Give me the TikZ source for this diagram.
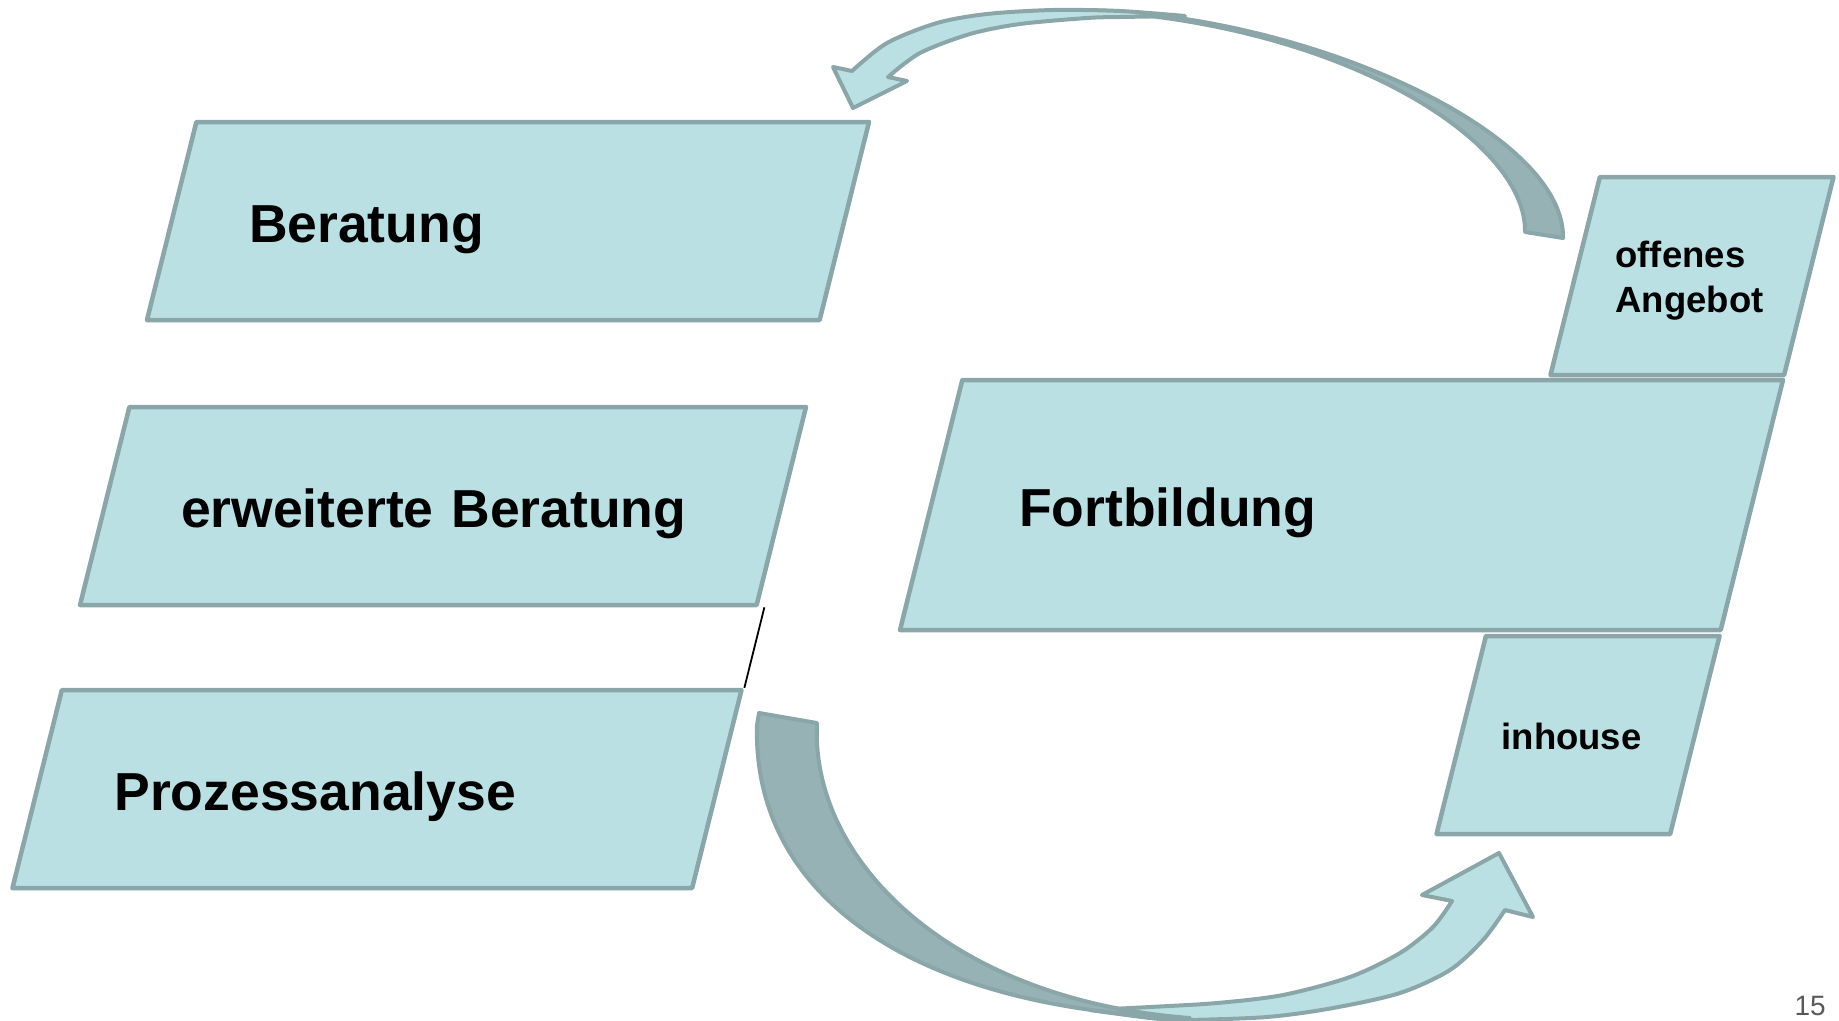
\documentclass[tikz,border=0pt]{standalone}
\usepackage{fontspec}
\setmainfont{Liberation Sans}
\usetikzlibrary{shapes.geometric,positioning}
\definecolor{boxfill}{RGB}{187,224,227}
\definecolor{boxline}{RGB}{138,166,168}
\definecolor{bandback}{RGB}{150,178,180}
\definecolor{pagegray}{RGB}{89,89,89}

\begin{document}
\begin{tikzpicture}[x=1pt,y=-1pt,line join=round]
  \tikzstyle{slab}=[trapezium,trapezium left angle=76,trapezium right angle=104,trapezium stretches body,draw=boxline,fill=boxfill,line width=4.5pt,inner sep=0pt,align=left,text=black]
  \tikzstyle{labbig}=[font=\bfseries\fontsize{53.5}{60}\selectfont,text height=120pt,text depth=78pt]
  \tikzstyle{labsmall}=[font=\bfseries\fontsize{36.5}{45}\selectfont,minimum width=283pt,text width=153pt]
  \tikzstyle{band}=[draw=boxline,line width=4pt]

  \useasboundingbox (0,0) rectangle (1839,1020);

  \node[slab,labbig,minimum width=722pt,text width=518pt] (ber) at (508,221) {Beratung};
  \node[slab,labbig,minimum width=726pt,text width=524pt] (erw) [below=82.5pt of ber,xshift=-65pt] {erweiterte Beratung};
  \node[slab,labbig,minimum width=729pt,text width=525pt] (pro) [below=80.5pt of erw,xshift=-66pt] {Prozessanalyse};

  \node[slab,labbig,minimum width=883pt,text height=146pt,text depth=104pt,text width=645pt] (fort) at (1341.5,505) {Fortbildung};
  \node[slab,labsmall,text height=90pt,text depth=108pt,anchor=bottom right corner] (off) at ([yshift=0.5pt]fort.top right corner) {offenes\\Angebot};
  \node[slab,labsmall,text height=113pt,text depth=85pt,anchor=top right corner] (inh) at ([yshift=-1.5pt]fort.bottom right corner) {inhouse};

  \draw[black,line width=1.8pt] ([xshift=6pt]erw.bottom right corner) -- (pro.top right corner);

  \filldraw[band,fill=bandback] (1525,232) -- (1563,238)
    .. controls (1565,130) and (1300,12) .. (1080,10)
    .. controls (1340,22) and (1527,140) .. (1525,232) -- cycle;
  \filldraw[band,fill=boxfill] (888,77) -- (907,81) -- (853,108) -- (833,67) -- (852,71)
    -- plot[smooth,tension=.5] coordinates {(852,71) (887,43) (937,23) (987,14) (1053,10) (1120,11) (1185,16)}
    -- plot[smooth,tension=.5] coordinates {(1185,16) (1120,17) (1087,18) (1020,24) (970,34) (920,53) (888,77)}
    -- cycle;

  \filldraw[band,fill=boxfill] plot[smooth,tension=.5] coordinates {(1090,1010) (1150,1018) (1183,1020) (1267,1017) (1333,1008) (1400,993) (1450,970) (1483,940) (1505,910)}
    -- (1533,917) -- (1499,853) -- (1422,895) -- (1452,901)
    -- plot[smooth,tension=.5] coordinates {(1452,901) (1433,927) (1400,953) (1350,977) (1283,995) (1217,1003) (1150,1007) (1090,1010)}
    -- cycle;
  \filldraw[band,fill=bandback] (759,713) -- (817,723)
    .. controls (810,860) and (950,1000) .. (1190,1018)
    .. controls (920,1010) and (752,900) .. (757,725) -- cycle;

  \node[font=\fontsize{28}{30}\selectfont,text=pagegray,anchor=base east,inner sep=0pt] (pnum) at (1826,1015) {15};
\end{tikzpicture}
\end{document}
